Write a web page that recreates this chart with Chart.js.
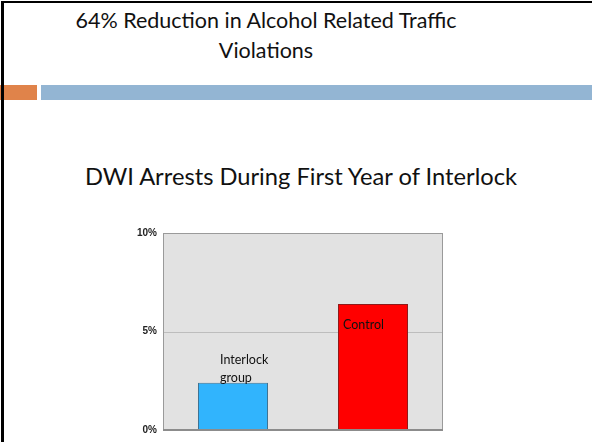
<!DOCTYPE html>
<html>
<head>
<meta charset="utf-8">
<script src="https://cdn.jsdelivr.net/npm/chart.js@4"></script>
<style>
  html, body { margin: 0; padding: 0; background: #fff; }
  body { width: 592px; height: 442px; position: relative; overflow: hidden; font-family: Lato, "Noto Sans", sans-serif; }
  #frame { position: absolute; left: 1px; top: 1px; width: 588px; height: 460px; border-left: 3px solid #000; border-top: 2px solid #000; border-right: 2px solid #000; }
  #title { position: absolute; left: -30px; top: 5px; width: 592px; text-align: center; font-size: 21.5px; line-height: 30px; color: #111; }
  #orange { position: absolute; left: 0; top: 85px; width: 37px; height: 15px; background: #e0834a; }
  #blue { position: absolute; left: 41px; top: 85px; width: 551px; height: 15px; background: #93b5d3; }
  #sub { position: absolute; left: 0; top: 162px; width: 602px; text-align: center; font-size: 23.7px; color: #111; }
  #wrap { position: absolute; left: 100px; top: 220px; width: 360px; height: 222px; }
</style>
</head>
<body>
<div id="orange"></div>
<div id="blue"></div>
<div id="frame"></div>
<div id="title">64% Reduction in Alcohol Related Traffic<br>Violations</div>
<div id="sub">DWI Arrests During First Year of Interlock</div>
<div id="wrap"><canvas id="dwiChart" width="360" height="222"></canvas></div>
<script>
const ctx = document.getElementById("dwiChart").getContext("2d");

const GROUPS = ["Interlock group", "Control"];
const ARRESTS = [2.4, 6.4];
const TICKS = [0, 5, 10];

const BAR_COLORS = ["#31b4fd", "#ff0000"];
const BAR_BORDERS = ["#3f7393", "#8e1b1b"];

// grey plot area + frame
const plotBox = {
  id: "plotBox",
  beforeDatasetsDraw(chart) {
    const a = chart.chartArea;
    const c = chart.ctx;
    c.save();
    c.fillStyle = "#e2e2e2";
    c.fillRect(a.left, a.top, a.right - a.left, a.bottom - a.top);
    c.strokeStyle = "#bdbdbd";
    c.lineWidth = 1;
    const y5 = Math.round(chart.scales.y.getPixelForValue(5)) + 0.5;
    c.beginPath();
    c.moveTo(a.left, y5);
    c.lineTo(a.right, y5);
    c.stroke();
    c.restore();
  },
  afterDatasetsDraw(chart) {
    const a = chart.chartArea;
    const c = chart.ctx;
    c.save();
    c.strokeStyle = "#9a9a9a";
    c.lineWidth = 1;
    c.strokeRect(a.left + 0.5, a.top + 0.5, a.right - a.left - 1, a.bottom - a.top);
    c.strokeStyle = "#8c8c8c";
    c.lineWidth = 2;
    c.beginPath();
    c.moveTo(a.left, a.bottom);
    c.lineTo(a.right, a.bottom);
    c.stroke();
    c.restore();
  },
};

// category names written on the bars
const barText = {
  id: "barText",
  afterDatasetsDraw(chart) {
    const c = chart.ctx;
    const meta = chart.getDatasetMeta(0);
    c.save();
    c.fillStyle = "#111";
    c.font = "12.5px Lato, 'Noto Sans', sans-serif";
    c.textBaseline = "middle";
    c.textAlign = "left";
    const b0 = meta.data[0];
    const x0 = b0.x - b0.width / 2 + 22;
    c.fillText("Interlock", x0, b0.y - 23);
    c.fillText("group", x0, b0.y - 5);
    const b1 = meta.data[1];
    c.fillText("Control", b1.x - b1.width / 2 + 5, b1.y + 21);
    c.restore();
  },
};

const data = {
  labels: GROUPS,
  datasets: [
    {
      label: "DWI arrests",
      data: ARRESTS,
      backgroundColor: BAR_COLORS,
      borderColor: BAR_BORDERS,
      borderWidth: 1,
      borderSkipped: "bottom",
      barPercentage: 0.5,
      categoryPercentage: 1,
    },
  ],
};

const config = {
  type: "bar",
  data: data,
  plugins: [plotBox, barText],
  options: {
    responsive: false,
    animation: false,
    events: [],
    layout: {
      padding: { left: 0, right: 17, top: 13, bottom: 11 },
    },
    plugins: {
      legend: { display: false },
      title: { display: false },
      tooltip: { enabled: false },
    },
    scales: {
      x: {
        display: false,
      },
      y: {
        min: 0,
        max: 10,
        afterFit(scale) {
          scale.width = 63;
        },
        afterBuildTicks(scale) {
          scale.ticks = TICKS.map((v) => ({ value: v }));
        },
        border: { display: false },
        grid: { display: false, drawTicks: false },
        ticks: {
          padding: 6,
          color: "#222",
          font: { family: "Arial, 'Liberation Sans', sans-serif", size: 10, weight: "bold" },
          callback: (v) => v + "%",
        },
      },
    },
  },
};

const dwiChart = new Chart(ctx, config);
</script>
</body>
</html>
